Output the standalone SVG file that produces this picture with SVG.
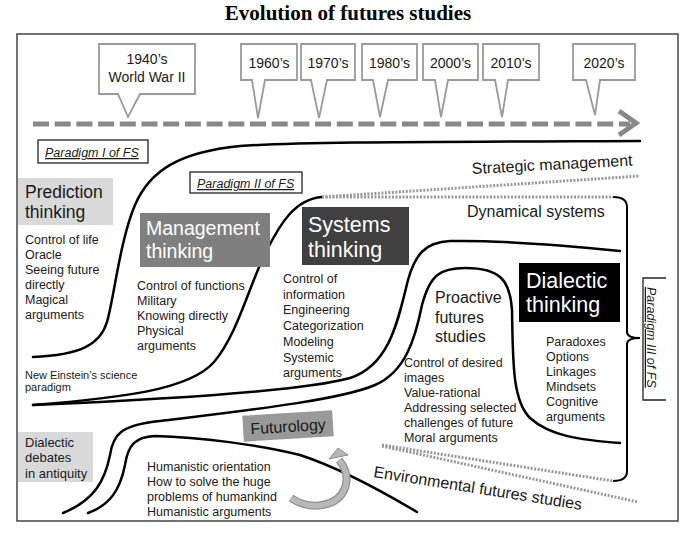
<svg xmlns="http://www.w3.org/2000/svg" width="697" height="537" viewBox="0 0 697 537">
<defs>
<style>
text{font-family:"Liberation Sans",Arial,sans-serif;fill:#1a1a1a}
.title{font-family:"Liberation Serif","Times New Roman",serif;font-weight:bold;font-size:21px;fill:#000}
.call{fill:#fff;stroke:#9a9a9a;stroke-width:1.8;stroke-linejoin:miter}
.ct{font-size:14px;text-anchor:middle}
.lbl{fill:#fff;stroke:#222;stroke-width:1.3}
.pt{font-size:12.5px;font-style:italic;text-decoration:underline}
.s{font-size:12.5px}
.m{font-size:16px}
.curve{fill:none;stroke:#000;stroke-width:2.5;stroke-linecap:round;stroke-linejoin:round}
.dot{fill:none;stroke:#999;stroke-width:3;stroke-dasharray:2 1.5}
.w{fill:#fff}
</style>
</defs>
<rect width="697" height="537" fill="#fff"/>
<text class="title" x="348" y="20" text-anchor="middle">Evolution of futures studies</text>
<rect x="17" y="34" width="661" height="487" fill="none" stroke="#444" stroke-width="1.5"/>

<g id="timeline">
<line x1="33" y1="124" x2="630" y2="124" stroke="#888" stroke-width="5" stroke-dasharray="16 5.7"/>
<polyline points="619,111 636,123 619,135" fill="none" stroke="#888" stroke-width="5"/>
</g>

<g id="c1940">
<path class="call" d="M99,44 H195 V94 H140 L128,117 L118,94 H99 Z"/>
<text class="ct" x="147" y="64">1940’s</text>
<text class="ct" x="147" y="82">World War II</text>
</g>
<g id="c1960">
<path class="call" d="M241,44 H297 V80 H265 L258,118 L252,80 H241 Z"/>
<text class="ct" x="269" y="68">1960’s</text>
</g>
<g id="c1970">
<path class="call" d="M301,44 H355 V80 H327 L319,118 L311,80 H301 Z"/>
<text class="ct" x="328" y="68">1970’s</text>
</g>
<g id="c1980">
<path class="call" d="M362,44 H417 V80 H388 L380,117 L373,80 H362 Z"/>
<text class="ct" x="389.5" y="68">1980’s</text>
</g>
<g id="c2000">
<path class="call" d="M423,44 H478 V80 H448 L441,117 L435,80 H423 Z"/>
<text class="ct" x="450.5" y="68">2000’s</text>
</g>
<g id="c2010">
<path class="call" d="M483,44 H539 V80 H508 L502,117 L495,80 H483 Z"/>
<text class="ct" x="511" y="68">2010’s</text>
</g>
<g id="c2020">
<path class="call" d="M573,44 H635 V80 H600 L595,115 L586,80 H573 Z"/>
<text class="ct" x="604" y="68">2020’s</text>
</g>

<g id="connectors">
<path class="curve" stroke-width="4.5" d="M33,357 C 80,355 100,345 107,322 C 114,298 120,240 135,205 C 150,170 180,152 240,146 C 300,142 400,142 640,141"/>
<path class="curve" d="M33,405 C 120,398 190,390 214,362 C 238,334 250,282 267,250 C 280,224 295,199 322,197"/>
<path class="curve" d="M33,405 C 150,400 300,392 350,378 C 390,365 398,320 408,280 C 415,255 425,242 450,241 C 500,240 560,245 620,251"/>
<path class="curve" d="M63,513 C 95,500 105,480 110,455 C 113,435 120,425 160,421 C 250,410 340,400 375,385 C 405,372 415,340 422,305 C 430,275 440,268 465,268 C 500,268 510,280 512,310 C 513,360 512,400 530,418 C 550,436 580,440 620,443"/>
<path class="curve" d="M88,513 C 110,505 120,490 125,465 C 128,445 135,437 155,436 C 200,437 260,445 300,455 C 340,468 380,490 417,512"/>
<path class="dot" d="M322,197 L640,176"/>
<path class="dot" d="M322,197 L613,197"/>
<path class="dot" d="M382,445 L613,481"/>
<path class="dot" d="M382,446 L638,502"/>
<path fill="none" stroke="#000" stroke-width="2" d="M613,197 Q627,197 627,207 L627,332 Q627,338 640,338 Q627,338 627,344 L627,471 Q627,481 613,481"/>
<path d="M291,498 C 310,511 338,507 345,488 C 349,476 345,467 339,460" fill="none" stroke="#8f8f8f" stroke-width="8"/>
<path d="M291,498 C 310,511 338,507 345,488 C 349,476 345,467 339,460" fill="none" stroke="#b8b8b8" stroke-width="5.5"/>
<polygon points="329,459 338,448 348,455" fill="#b8b8b8" stroke="#8f8f8f" stroke-width="1"/>
</g>

<g id="paradigm1">
<rect class="lbl" x="38" y="140" width="110" height="23"/>
<text class="pt" x="45" y="157">Paradigm I of FS</text>
</g>
<g id="paradigm2">
<rect class="lbl" x="190" y="172" width="112" height="21"/>
<text class="pt" x="197" y="188">Paradigm II of FS</text>
</g>
<g id="paradigm3">
<path d="M666,278 H643 V400 H666" fill="#fff" stroke="#222" stroke-width="1.3"/>
<text class="pt" transform="translate(647,287) rotate(90)">Paradigm III of FS</text>
</g>

<g id="strategic">
<text class="m" x="472" y="174" transform="rotate(-3 472 174)">Strategic management</text>
</g>
<g id="dynamical">
<text class="m" x="467" y="217">Dynamical systems</text>
</g>
<g id="environmental">
<text class="m" x="373" y="477" transform="rotate(9 373 477)">Environmental futures studies</text>
</g>

<g id="prediction">
<rect x="18" y="178" width="95" height="47" fill="#d9d9d9"/>
<text x="25" y="198" font-size="17.5">Prediction</text>
<text x="25" y="218" font-size="17.5">thinking</text>
<text class="s" x="25" y="244">Control of life</text>
<text class="s" x="25" y="258.5">Oracle</text>
<text class="s" x="25" y="273.5">Seeing future</text>
<text class="s" x="25" y="289">directly</text>
<text class="s" x="25" y="303.5">Magical</text>
<text class="s" x="25" y="319">arguments</text>
</g>

<g id="management">
<rect x="140" y="213" width="130" height="54" fill="#7f7f7f"/>
<text class="w" x="146" y="235" font-size="19.5">Management</text>
<text class="w" x="146" y="258" font-size="19.5">thinking</text>
<text class="s" x="137" y="289.5">Control of functions</text>
<text class="s" x="137" y="304.5">Military</text>
<text class="s" x="137" y="319.5">Knowing directly</text>
<text class="s" x="137" y="334.5">Physical</text>
<text class="s" x="137" y="349.5">arguments</text>
</g>

<g id="systems">
<rect x="302" y="207" width="107" height="58" fill="#404040"/>
<text class="w" x="308" y="232" font-size="21.5">Systems</text>
<text class="w" x="308" y="257" font-size="21.5">thinking</text>
<text class="s" x="283" y="283">Control of</text>
<text class="s" x="283" y="298.7">information</text>
<text class="s" x="283" y="314.4">Engineering</text>
<text class="s" x="283" y="330.1">Categorization</text>
<text class="s" x="283" y="345.8">Modeling</text>
<text class="s" x="283" y="361.5">Systemic</text>
<text class="s" x="283" y="377.2">arguments</text>
</g>

<g id="dialectic">
<rect x="519" y="263" width="101" height="59" fill="#000"/>
<text class="w" x="526" y="288" font-size="21.5">Dialectic</text>
<text class="w" x="526" y="312" font-size="21.5">thinking</text>
<text class="s" x="546" y="345.5">Paradoxes</text>
<text class="s" x="546" y="360.5">Options</text>
<text class="s" x="546" y="375.5">Linkages</text>
<text class="s" x="546" y="390.5">Mindsets</text>
<text class="s" x="546" y="405.5">Cognitive</text>
<text class="s" x="546" y="420.5">arguments</text>
</g>

<g id="proactive">
<text class="m" x="435" y="303">Proactive</text>
<text class="m" x="435" y="323">futures</text>
<text class="m" x="435" y="342">studies</text>
<text class="s" x="404" y="366.5">Control of desired</text>
<text class="s" x="404" y="381.5">images</text>
<text class="s" x="404" y="396.5">Value-rational</text>
<text class="s" x="404" y="411.5">Addressing selected</text>
<text class="s" x="404" y="426.5">challenges of future</text>
<text class="s" x="404" y="441.5">Moral arguments</text>
</g>

<g id="einstein">
<text x="25" y="379" font-size="11">New Einstein’s science</text>
<text x="25" y="391" font-size="11">paradigm</text>
</g>

<g id="antiquity">
<rect x="18" y="432" width="75" height="50" fill="#d9d9d9"/>
<text x="25" y="446.5" font-size="13">Dialectic</text>
<text x="25" y="461.5" font-size="13">debates</text>
<text x="25" y="477.5" font-size="13">in antiquity</text>
</g>

<g id="futurology">
<g transform="rotate(-3.5 288 426)">
<rect x="243" y="413" width="90" height="26" fill="#999"/>
<text x="288" y="432" font-size="16" text-anchor="middle">Futurology</text>
</g>
<text class="s" x="147" y="470.5">Humanistic orientation</text>
<text class="s" x="147" y="485.5">How to solve the huge</text>
<text class="s" x="147" y="500.5">problems of humankind</text>
<text class="s" x="147" y="515.5">Humanistic arguments</text>
</g>
</svg>
